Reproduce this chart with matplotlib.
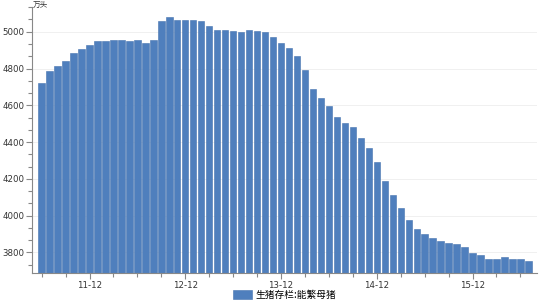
import matplotlib
matplotlib.use("Agg")
import matplotlib.pyplot as plt
from matplotlib.ticker import MultipleLocator, FixedLocator

plt.rcParams['font.family'] = ['DejaVu Sans', 'Noto Sans CJK SC']

# months Jun 2011 .. Jul 2016, breeding sow inventory (万头)
months = []
for year in range(2011, 2017):
    for m in range(1, 13):
        if (year == 2011 and m < 6) or (year == 2016 and m > 7):
            continue
        months.append("%02d-%02d" % (year % 100, m))

sows = [4720, 4786, 4813, 4842, 4882, 4904, 4926, 4948, 4948, 4953,
        4953, 4948, 4953, 4937, 4957, 5060, 5078, 5062, 5064, 5064,
        5057, 5033, 5011, 5011, 5005, 4998, 5011, 5005, 4996, 4973,
        4939, 4910, 4870, 4792, 4687, 4639, 4594, 4538, 4502, 4480,
        4422, 4369, 4293, 4191, 4114, 4044, 3974, 3925, 3900, 3876,
        3861, 3854, 3847, 3827, 3798, 3785, 3763, 3763, 3774, 3763,
        3763, 3753]

series_name = "生猪存栏:能繁母猪"
unit = "万头"

fig = plt.figure(figsize=(5.5, 3.0), dpi=100)
ax = fig.add_axes([0.059, 0.091, 0.917, 0.886])

x = list(range(len(sows)))
bars = ax.bar(x, sows, width=0.8, color='#4f7fbd', edgecolor='#4674b0',
              linewidth=0.4, label=series_name, zorder=2)

ax.set_xlim(-1.15, len(sows) + 0.05)
ax.set_ylim(3690, 5135)

ax.yaxis.set_major_locator(MultipleLocator(200))
ax.yaxis.set_minor_locator(MultipleLocator(200 / 3))
ax.grid(axis='y', which='major', color='#eeeeee', linewidth=0.6, zorder=0)

major_idx = [i for i, m in enumerate(months) if m.endswith("-12")]
ax.xaxis.set_major_locator(FixedLocator(major_idx))
ax.set_xticklabels([months[i][:2] + "-12" for i in major_idx])
ax.xaxis.set_minor_locator(FixedLocator(list(range(0, len(sows), 3))))

for side in ('top', 'right'):
    ax.spines[side].set_visible(False)
for side in ('left', 'bottom'):
    ax.spines[side].set_color('#888888')
    ax.spines[side].set_linewidth(0.8)

ax.tick_params(axis='both', which='both', colors='#888888', labelcolor='#333333',
               labelsize=6.2, width=0.8)
ax.tick_params(axis='both', which='major', length=4, pad=2)
ax.tick_params(axis='both', which='minor', length=3)

ax.text(0.0, 1.006, unit, transform=ax.transAxes, fontsize=5.5,
        family=['Noto Sans CJK SC', 'DejaVu Sans'], color='#333333',
        ha='left', va='center')

ax.legend(handles=[bars], loc='center', bbox_to_anchor=(0.5, -0.082),
          frameon=False, prop={'family': ['Noto Sans CJK SC', 'DejaVu Sans'], 'size': 7},
          handlelength=2.0, handleheight=1.0, handletextpad=0.4,
          borderaxespad=0, borderpad=0)

fig.savefig("out.png", dpi=100)
